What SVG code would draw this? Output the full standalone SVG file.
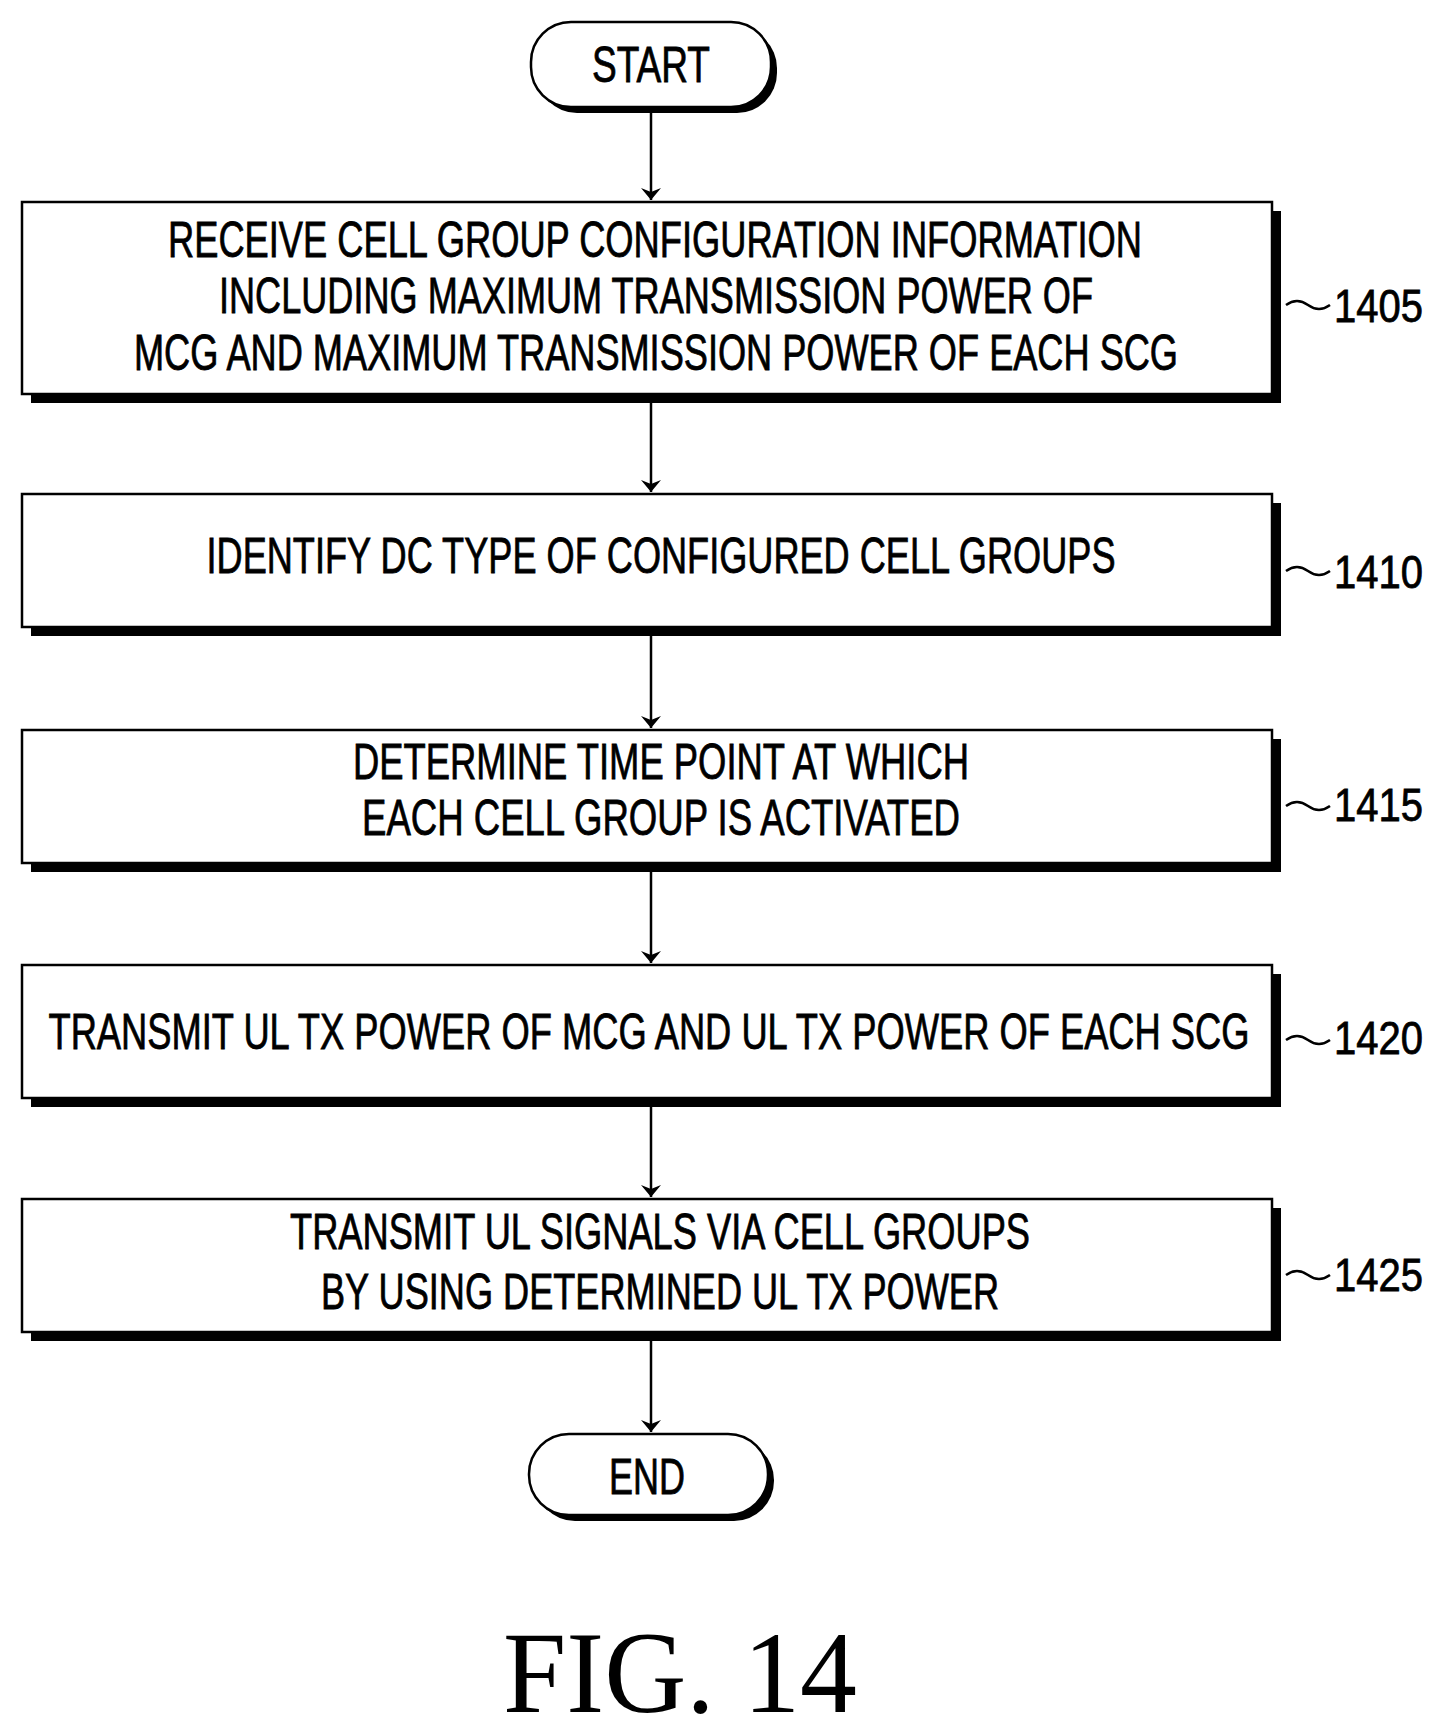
<svg xmlns="http://www.w3.org/2000/svg" width="1438" height="1723" viewBox="0 0 1438 1723">
<defs>
<style>
.box{fill:#fff;stroke:#000;stroke-width:2.5}
.sh{fill:#000}
.t{font-family:"Liberation Sans",Arial,sans-serif;font-size:50px;text-anchor:middle;stroke:#000;stroke-width:0.8}
.lb{font-family:"Liberation Sans",Arial,sans-serif;font-size:46px;stroke:#000;stroke-width:0.8}
.c{stroke:#000;stroke-width:2.5;fill:none}
</style>
<marker id="ah" viewBox="0 0 12 20" refX="12" refY="10" markerWidth="12" markerHeight="20" markerUnits="userSpaceOnUse" orient="auto"><path d="M0,0 L12,10 L0,20 L4,10 Z" fill="#000"/></marker>
</defs>
<rect width="1438" height="1723" fill="#fff"/>
<g id="connectors">
<line class="c" x1="651" y1="110" x2="651" y2="200" marker-end="url(#ah)"/>
<line class="c" x1="651" y1="403" x2="651" y2="492" marker-end="url(#ah)"/>
<line class="c" x1="651" y1="636" x2="651" y2="728" marker-end="url(#ah)"/>
<line class="c" x1="651" y1="872" x2="651" y2="963" marker-end="url(#ah)"/>
<line class="c" x1="651" y1="1107" x2="651" y2="1197" marker-end="url(#ah)"/>
<line class="c" x1="651" y1="1341" x2="651" y2="1432" marker-end="url(#ah)"/>
<path class="c" d="M1286,305 q11,-8 22,0 t22,0"/>
<path class="c" d="M1286,571 q11,-8 22,0 t22,0"/>
<path class="c" d="M1286,806 q11,-8 22,0 t22,0"/>
<path class="c" d="M1286,1040 q11,-8 22,0 t22,0"/>
<path class="c" d="M1286,1275 q11,-8 22,0 t22,0"/>
</g>
<g id="start">
<rect class="sh" x="537" y="28" width="240" height="85" rx="40"/>
<rect class="box" x="531" y="22" width="240" height="85" rx="40"/>
<text class="t" x="651" y="82" textLength="118" lengthAdjust="spacingAndGlyphs">START</text>
</g>
<g id="n1405">
<rect class="sh" x="31" y="211" width="1250" height="192"/>
<rect class="box" x="22" y="202" width="1250" height="192"/>
<text class="t" x="655" y="257" textLength="974" lengthAdjust="spacingAndGlyphs">RECEIVE CELL GROUP CONFIGURATION INFORMATION</text>
<text class="t" x="656" y="313" textLength="874" lengthAdjust="spacingAndGlyphs">INCLUDING MAXIMUM TRANSMISSION POWER OF</text>
<text class="t" x="656" y="370" textLength="1044" lengthAdjust="spacingAndGlyphs">MCG AND MAXIMUM TRANSMISSION POWER OF EACH SCG</text>
<text class="lb" x="1334" y="322" textLength="89" lengthAdjust="spacingAndGlyphs">1405</text>
</g>
<g id="n1410">
<rect class="sh" x="31" y="503" width="1250" height="133"/>
<rect class="box" x="22" y="494" width="1250" height="133"/>
<text class="t" x="661" y="573" textLength="909" lengthAdjust="spacingAndGlyphs">IDENTIFY DC TYPE OF CONFIGURED CELL GROUPS</text>
<text class="lb" x="1334" y="588" textLength="89" lengthAdjust="spacingAndGlyphs">1410</text>
</g>
<g id="n1415">
<rect class="sh" x="31" y="739" width="1250" height="133"/>
<rect class="box" x="22" y="730" width="1250" height="133"/>
<text class="t" x="661" y="779" textLength="616" lengthAdjust="spacingAndGlyphs">DETERMINE TIME POINT AT WHICH</text>
<text class="t" x="661" y="835" textLength="598" lengthAdjust="spacingAndGlyphs">EACH CELL GROUP IS ACTIVATED</text>
<text class="lb" x="1334" y="821" textLength="89" lengthAdjust="spacingAndGlyphs">1415</text>
</g>
<g id="n1420">
<rect class="sh" x="31" y="974" width="1250" height="133"/>
<rect class="box" x="22" y="965" width="1250" height="133"/>
<text class="t" x="649" y="1049" textLength="1201" lengthAdjust="spacingAndGlyphs">TRANSMIT UL TX POWER OF MCG AND UL TX POWER OF EACH SCG</text>
<text class="lb" x="1334" y="1054" textLength="89" lengthAdjust="spacingAndGlyphs">1420</text>
</g>
<g id="n1425">
<rect class="sh" x="31" y="1208" width="1250" height="133"/>
<rect class="box" x="22" y="1199" width="1250" height="133"/>
<text class="t" x="660" y="1249" textLength="740" lengthAdjust="spacingAndGlyphs">TRANSMIT UL SIGNALS VIA CELL GROUPS</text>
<text class="t" x="660" y="1309" textLength="678" lengthAdjust="spacingAndGlyphs">BY USING DETERMINED UL TX POWER</text>
<text class="lb" x="1334" y="1291" textLength="89" lengthAdjust="spacingAndGlyphs">1425</text>
</g>
<g id="end">
<rect class="sh" x="535" y="1440" width="239" height="81" rx="40"/>
<rect class="box" x="529" y="1434" width="239" height="81" rx="40"/>
<text class="t" x="647" y="1494" textLength="76" lengthAdjust="spacingAndGlyphs">END</text>
</g>
<text x="680" y="1712" font-family="'Liberation Serif','Times New Roman',serif" font-size="116" text-anchor="middle" textLength="354" lengthAdjust="spacingAndGlyphs">FIG. 14</text>
</svg>
